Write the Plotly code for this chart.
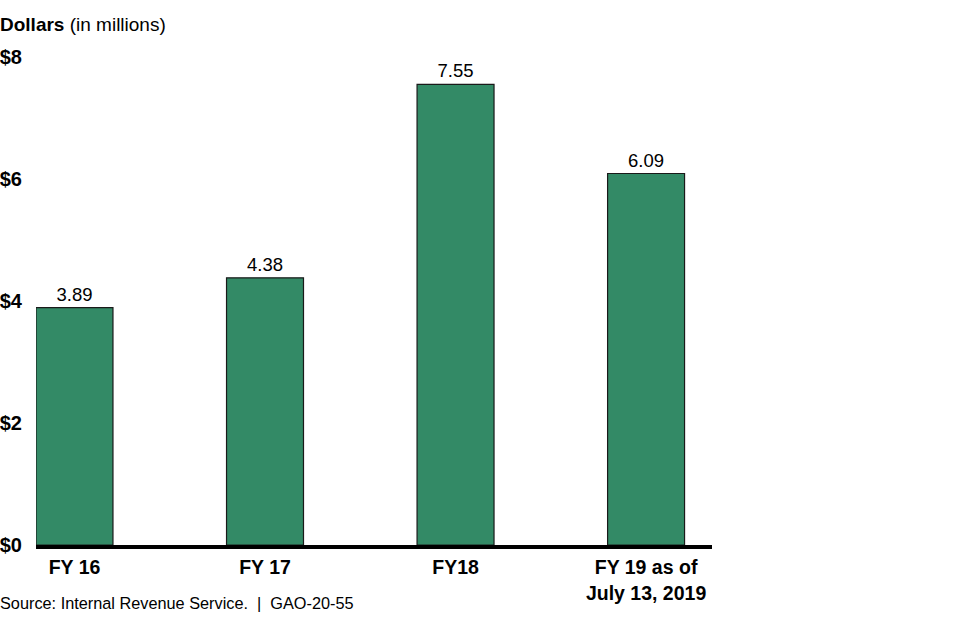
import plotly.graph_objects as go

categories = ["FY 16", "FY 17", "FY18", "FY 19 as of<br>July 13, 2019"]
values = [3.89, 4.38, 7.55, 6.09]
value_labels = ["3.89", "4.38", "7.55", "6.09"]
y_ticks = [0, 2, 4, 6, 8]
y_tick_labels = ["$0", "$2", "$4", "$6", "$8"]

FONT = "Liberation Sans, Arial, sans-serif"

W, H = 980, 626
l, r, t, b = 36, 268, 57, 81
pw, ph = W - l - r, H - t - b

fig = go.Figure()
fig.add_trace(go.Bar(
    x=list(range(len(categories))),
    y=values,
    text=value_labels,
    textposition="outside",
    textfont=dict(family=FONT, size=18.5, color="#000000"),
    marker=dict(color="#338a66", line=dict(color="#1a1a1a", width=1.2)),
    width=0.404,
    cliponaxis=False,
))

fig.update_layout(
    width=W, height=H,
    margin=dict(l=l, r=r, t=t, b=b, autoexpand=False),
    paper_bgcolor="white", plot_bgcolor="white",
    showlegend=False,
    font=dict(family=FONT, color="#000000"),
    xaxis=dict(
        range=[-0.202, 3.346],
        tickmode="array",
        tickvals=list(range(len(categories))),
        ticktext=["<b>%s</b>" % c for c in categories],
        tickfont=dict(family=FONT, size=19.5, color="#000000"),
        showgrid=False, zeroline=False,
        showline=True, linecolor="#000000", linewidth=4,
        ticks="", ticklabelstandoff=2, automargin=False,
    ),
    yaxis=dict(
        range=[0, 8],
        tickmode="array",
        tickvals=y_ticks,
        ticktext=["<b>%s</b>" % tl for tl in y_tick_labels],
        tickfont=dict(family=FONT, size=20, color="#000000"),
        showgrid=False, zeroline=False, showline=False,
        ticks="", ticklabelstandoff=13, automargin=False,
    ),
)

def ann(text, px, py, size):
    return dict(text=text, xref="paper", yref="paper",
                x=(px - l) / pw, y=1 - (py - t) / ph,
                xanchor="left", yanchor="middle", showarrow=False,
                font=dict(family=FONT, size=size, color="#000000"))

fig.update_layout(annotations=[
    ann("<b>Dollars</b> (in millions)", -2, 25, 19),
    ann("Source: Internal Revenue Service.  |  GAO-20-55", -2, 603, 16.3),
])

fig.write_html("out.html", config={"displayModeBar": False},
               post_script="document.body.style.margin='0px';")
